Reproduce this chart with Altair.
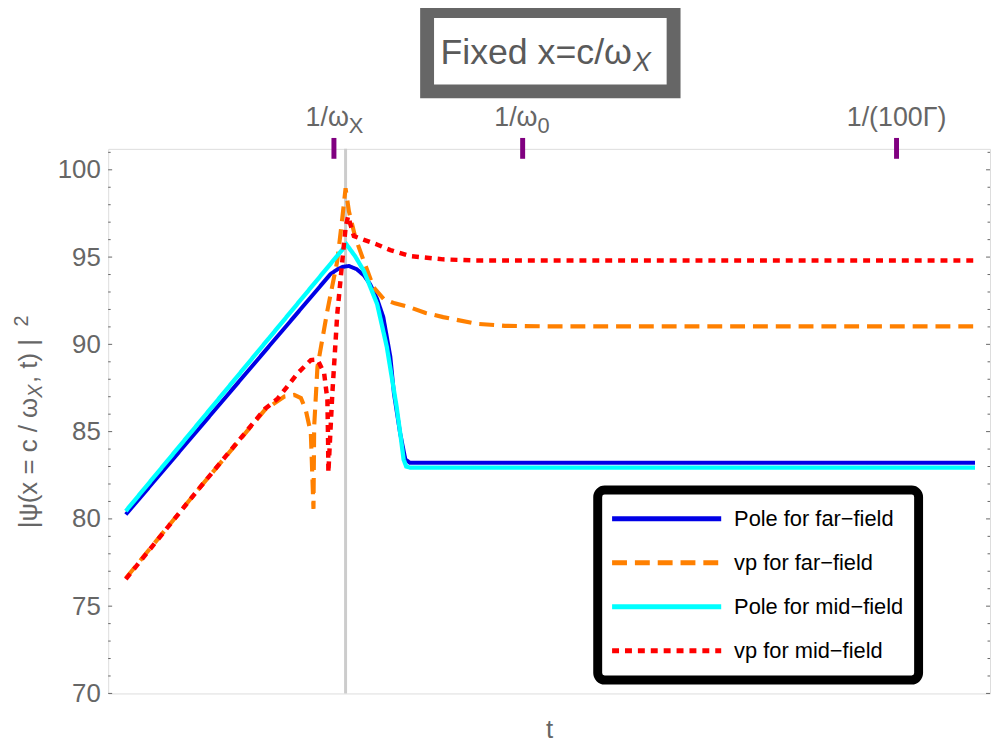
import altair as alt
import pandas as pd

# ---------------- data ----------------
series_names = ["Pole for far−field", "vp for far−field", "Pole for mid−field", "vp for mid−field"]
series_colors = ["#0000e6", "#ff8000", "#00ffff", "#ff0000"]
series_dash = [[1, 0], [15, 8], [1, 0], [7, 6]]
series_width = [4, 4.5, 6, 5.5]

# t is a log-time coordinate (arbitrary units, 0..100 across the frame)
pole_far_t = [2.0, 25.2, 26.0, 26.6, 27.3, 28.2, 29.0, 29.7, 30.5, 31.2, 32.0, 32.4, 33.1, 33.7, 34.2, 98.3]
pole_far_y = [80.25, 94.02, 94.30, 94.44, 94.49, 94.30, 93.95, 93.45, 92.6, 91.56, 89.28, 87.2, 84.93, 83.41, 83.22, 83.22]

vp_far_t = [2.0, 10.24, 17.77, 19.98, 21.1, 21.86, 22.4, 22.98, 23.28, 23.36, 23.73, 24.86, 25.98,
            26.55, 26.92, 27.3, 28.04, 28.98, 30.1, 31.24, 32.5, 34.23, 36.0, 37.99, 41.73, 45.0, 49.6, 98.3]
vp_far_y = [76.6, 81.7, 86.25, 87.01, 87.1, 86.92, 86.25, 84.92, 80.57, 85.3, 88.71, 91.94, 94.78,
            97.24, 98.94, 97.62, 96.1, 94.78, 93.26, 92.6, 92.35, 92.12, 91.8, 91.56, 91.18, 91.06, 91.03, 91.03]

pole_mid_t = [2.0, 27.03, 28.0, 29.0, 30.5, 31.6, 32.7, 33.2, 33.5, 33.8, 34.2, 98.3]
pole_mid_y = [80.45, 95.72, 95.05, 94.2, 92.31, 89.85, 86.44, 84.6, 83.41, 83.0, 82.94, 82.94]

vp_mid_t = [2.0, 10.24, 17.77, 19.24, 21.48, 22.98, 23.73, 24.49, 24.86, 24.94, 24.97, 25.42, 25.98,
            26.55, 26.92, 27.2, 27.86, 30.48, 32.0, 34.23, 37.99, 41.73, 98.3]
vp_mid_y = [76.55, 81.7, 86.3, 86.9, 88.34, 89.1, 89.13, 88.34, 86.82, 84.36, 82.66, 87.2, 91.75,
            94.78, 96.67, 97.34, 96.2, 95.72, 95.4, 95.06, 94.87, 94.8, 94.8]

marker_t = [26.92]                       # vertical gray line
top_tick_t = [25.6, 47.0, 89.4]          # 1/wX, 1/w0, 1/(100 Gamma)
top_tick_main = ["1/ω", "1/ω", "1/(100Γ)"]
top_tick_sub = ["X", "0", ""]

y_ticks_major = [70, 75, 80, 85, 90, 95, 100]
y_ticks_minor = [v for v in range(70, 102) if v % 5 != 0]

title_main = "Fixed x=c/ω"
title_sub = "X"
ylab_parts = ["|ψ(x = c / ω", "X", " , t) |", "2"]
x_title = "t"

# ---------------- frames ----------------
rows = []
for name, ts, ys in zip(series_names,
                        [pole_far_t, vp_far_t, pole_mid_t, vp_mid_t],
                        [pole_far_y, vp_far_y, pole_mid_y, vp_mid_y]):
    for t, y in zip(ts, ys):
        rows.append({"series": name, "t": t, "y": y})
df = pd.DataFrame(rows)

W, H = 889, 549
FONT = "Liberation Sans"
GRAY = "#666666"

x_scale = alt.Scale(domain=[0, 100], nice=False, zero=False)
y_scale = alt.Scale(domain=[70, 101.2], nice=False, zero=False)
color_scale = alt.Scale(domain=series_names, range=series_colors)
dash_scale = alt.Scale(domain=series_names, range=series_dash)
width_scale = alt.Scale(domain=series_names, range=series_width)

one = pd.DataFrame({"a": [0]})

gray_line = alt.Chart(pd.DataFrame({"t": marker_t})).mark_rule(
    color="#cccccc", strokeWidth=3
).encode(
    x=alt.X("t:Q", scale=x_scale,
            axis=alt.Axis(title=x_title, labels=False, ticks=False, domain=False, grid=False,
                          titleFontSize=26, titleColor=GRAY, titleFontWeight="normal",
                          titleFont=FONT, titlePadding=23)),
)

lines = alt.Chart(df).mark_line(interpolate="linear", clip=True).encode(
    x=alt.X("t:Q", scale=x_scale),
    y=alt.Y("y:Q", scale=y_scale,
            axis=alt.Axis(title=None, values=y_ticks_major, ticks=False, domain=False, grid=False,
                          labelFontSize=26, labelColor=GRAY, labelFont=FONT, labelPadding=8)),
    color=alt.Color("series:N", scale=color_scale, legend=None),
    strokeDash=alt.StrokeDash("series:N", scale=dash_scale, legend=None),
    strokeWidth=alt.StrokeWidth("series:N", scale=width_scale, legend=None),
)

maj = pd.DataFrame({"v": y_ticks_major})
mnr = pd.DataFrame({"v": y_ticks_minor})
tick_layers = []
for d, L in [(maj, 4), (mnr, 2.5)]:
    tick_layers.append(alt.Chart(d).mark_rule(color=GRAY, strokeWidth=1).encode(
        y=alt.Y("v:Q", scale=y_scale), x=alt.value(0), x2=alt.value(L)))
    tick_layers.append(alt.Chart(d).mark_rule(color=GRAY, strokeWidth=1).encode(
        y=alt.Y("v:Q", scale=y_scale), x=alt.value(W - L), x2=alt.value(W)))

top_df = pd.DataFrame({"t": top_tick_t, "main": top_tick_main, "sub": top_tick_sub})
top_ticks = alt.Chart(top_df).mark_rule(color="#800080", strokeWidth=5).encode(
    x=alt.X("t:Q", scale=x_scale), y=alt.value(-11), y2=alt.value(10))
top_lab_plain = alt.Chart(top_df).transform_filter("datum.sub == ''").mark_text(
    align="center", baseline="alphabetic", fontSize=27, font=FONT, color=GRAY
).encode(x=alt.X("t:Q", scale=x_scale), y=alt.value(-23), text="main:N")
top_lab_main = alt.Chart(top_df).transform_filter("datum.sub != ''").mark_text(
    align="right", baseline="alphabetic", fontSize=27, font=FONT, color=GRAY, dx=15
).encode(x=alt.X("t:Q", scale=x_scale), y=alt.value(-23), text="main:N")
top_lab_sub = alt.Chart(top_df).transform_filter("datum.sub != ''").mark_text(
    align="left", baseline="alphabetic", fontSize=22, font=FONT, color=GRAY, dx=15
).encode(x=alt.X("t:Q", scale=x_scale), y=alt.value(-16), text="sub:N")

# legend
leg_df = pd.DataFrame({"series": series_names, "idx": list(range(len(series_names)))})
leg_box = alt.Chart(one).mark_rect(fill="white", stroke="black", strokeWidth=9, cornerRadius=7).encode(
    x=alt.value(493.5), x2=alt.value(817), y=alt.value(344), y2=alt.value(535.5))
leg_lines = alt.Chart(leg_df).transform_calculate(py="373 + datum.idx * 44.3").mark_rule(strokeWidth=5).encode(
    x=alt.value(508), x2=alt.value(618),
    y=alt.Y("py:Q", scale=None, axis=None),
    color=alt.Color("series:N", scale=color_scale, legend=None),
    strokeDash=alt.StrokeDash("series:N", scale=dash_scale, legend=None),
)
leg_text = alt.Chart(leg_df).transform_calculate(py="373 + datum.idx * 44.3").mark_text(
    align="left", baseline="middle", fontSize=22, font=FONT, color="black"
).encode(x=alt.value(631), y=alt.Y("py:Q", scale=None, axis=None), text="series:N")

# title box
title_box = alt.Chart(one).mark_rect(fill="white", stroke=GRAY, strokeWidth=14).encode(
    x=alt.value(321.5), x2=alt.value(570), y=alt.value(-139), y2=alt.value(-58))
title_t1 = alt.Chart(one).mark_text(align="right", baseline="alphabetic", fontSize=36,
                                     font=FONT, color="#5a5a5a").encode(
    x=alt.value(528), y=alt.value(-86), text=alt.value(title_main))
title_t2 = alt.Chart(one).mark_text(align="left", baseline="alphabetic", fontSize=27,
                                     font=FONT, color="#5a5a5a", fontStyle="italic").encode(
    x=alt.value(529), y=alt.value(-79), text=alt.value(title_sub))

# y title pieces (rotated)
yl1 = alt.Chart(one).mark_text(align="right", baseline="alphabetic", angle=270, fontSize=26,
                                font=FONT, color=GRAY).encode(
    x=alt.value(-72), y=alt.value(251), text=alt.value(ylab_parts[0]))
yl2 = alt.Chart(one).mark_text(align="left", baseline="alphabetic", angle=270, fontSize=20,
                                font=FONT, color=GRAY, fontStyle="italic").encode(
    x=alt.value(-67), y=alt.value(251), text=alt.value(ylab_parts[1]))
yl3 = alt.Chart(one).mark_text(align="left", baseline="alphabetic", angle=270, fontSize=26,
                                font=FONT, color=GRAY).encode(
    x=alt.value(-72), y=alt.value(236), text=alt.value(ylab_parts[2]))
yl4 = alt.Chart(one).mark_text(align="left", baseline="alphabetic", angle=270, fontSize=20,
                                font=FONT, color=GRAY).encode(
    x=alt.value(-81), y=alt.value(179), text=alt.value(ylab_parts[3]))

chart = alt.layer(
    gray_line, lines, *tick_layers, top_ticks, top_lab_plain, top_lab_main, top_lab_sub,
    leg_box, leg_lines, leg_text, title_box, title_t1, title_t2, yl1, yl2, yl3, yl4
).properties(
    width=W, height=H,
    autosize=alt.AutoSizeParams(type="none"),
    padding={"left": 101, "top": 139, "right": 2, "bottom": 52},
).configure_view(stroke=GRAY, strokeWidth=1.5).configure(font=FONT)

chart.save("out.html", embed_options={"renderer": "svg", "actions": False})
